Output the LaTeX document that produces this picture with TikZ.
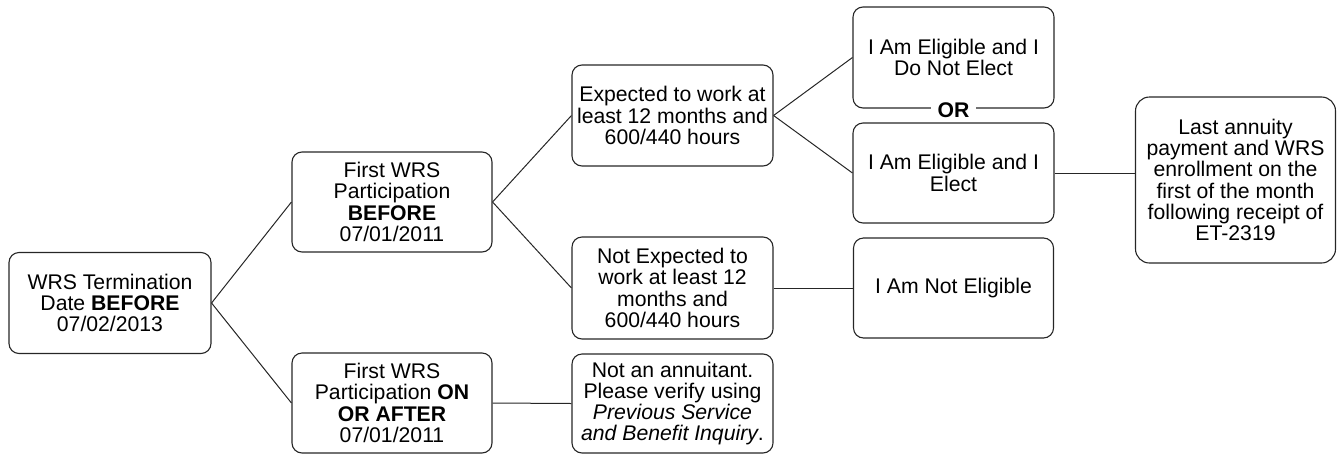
\documentclass[tikz,border=0pt]{standalone}
\usepackage{fontspec}
\setmainfont{Liberation Sans}
\begin{document}
\begin{tikzpicture}[x=1pt,y=1pt,
  box/.style={draw=black!85, line width=1.1pt, rounded corners=10pt, inner sep=0pt,
    align=center, font=\fontsize{21.2}{21.3}\selectfont, text=black},
  conn/.style={draw=black!85, line width=1pt}]
\useasboundingbox (0,0) rectangle (1337,-453);
\node[box, minimum width=202pt, minimum height=101pt] (A) at (110,-303) {WRS Termination\\Date \textbf{BEFORE}\\07/02/2013};
\node[box, minimum width=200pt, minimum height=100pt] (B) at (392,-202) {First WRS\\Participation\\\textbf{BEFORE}\\07/01/2011};
\node[box, minimum width=200pt, minimum height=100pt] (C) at (392,-403) {First WRS\\Participation \textbf{ON}\\\textbf{OR AFTER}\\07/01/2011};
\node[box, minimum width=201pt, minimum height=101pt] (D) at (672.5,-115.5) {Expected to work at\\least 12 months and\\600/440 hours};
\node[box, minimum width=201pt, minimum height=102pt] (E) at (672.5,-288) {Not Expected to\\work at least 12\\months and\\600/440 hours};
\node[box, minimum width=201pt, minimum height=99pt] (F) at (672.5,-403.5) {Not an annuitant.\\Please verify using\\\textit{Previous Service}\\\textit{and Benefit Inquiry}.};
\node[box, minimum width=201pt, minimum height=101pt] (G) at (953.5,-57.5) {I Am Eligible and I\\Do Not Elect};
\node[box, minimum width=201pt, minimum height=100pt] (H) at (953.5,-173) {I Am Eligible and I\\Elect};
\node[box, minimum width=200pt, minimum height=100pt] (J) at (953.5,-288) {I Am Not Eligible};
\node[box, rounded corners=14pt, minimum width=200pt, minimum height=166pt] (I) at (1235.5,-180) {Last annuity\\payment and WRS\\enrollment on the\\first of the month\\following receipt of\\ET-2319};
\node[fill=white, inner xsep=7pt, inner ysep=1pt, font=\fontsize{21.2}{21.3}\selectfont\bfseries] (OR) at (953.5,-110) {OR};
\draw[conn] (A.east) -- (B.west);
\draw[conn] (A.east) -- (C.west);
\draw[conn] (B.east) -- (D.west);
\draw[conn] (B.east) -- (E.west);
\draw[conn] (C.east) -- (F.west);
\draw[conn] (D.east) -- (G.west);
\draw[conn] (D.east) -- (H.west);
\draw[conn] (E.east) -- (J.west);
\draw[conn] (H.east) -- (I.west |- H.east);
\end{tikzpicture}
\end{document}
